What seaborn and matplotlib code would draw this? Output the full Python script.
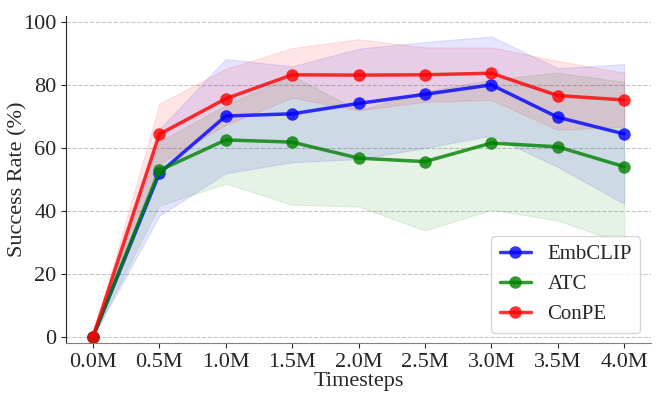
import numpy as np
import pandas as pd
import seaborn as sns
import matplotlib.pyplot as plt

# data
steps = [0.0, 0.5, 1.0, 1.5, 2.0, 2.5, 3.0, 3.5, 4.0]
step_labels = ['0.0M', '0.5M', '1.0M', '1.5M', '2.0M', '2.5M', '3.0M', '3.5M', '4.0M']

embclip_mean = [0, 52.0, 70.2, 70.9, 74.2, 77.1, 80.1, 69.8, 64.5]
embclip_upper = [0, 66.0, 88.3, 86.0, 91.6, 93.7, 95.5, 85.4, 86.7]
embclip_lower = [0, 38.5, 52.0, 55.5, 56.5, 60.0, 64.0, 54.0, 42.3]

atc_mean = [0, 52.9, 62.6, 61.9, 56.8, 55.7, 61.6, 60.4, 54.1]
atc_upper = [0, 62.0, 73.7, 83.0, 72.0, 78.0, 81.7, 84.0, 81.0]
atc_lower = [0, 41.7, 48.7, 42.0, 41.4, 33.8, 40.4, 37.0, 29.6]

conpe_mean = [0, 64.4, 75.7, 83.3, 83.2, 83.3, 83.8, 76.7, 75.3]
conpe_upper = [0, 74.1, 85.2, 91.8, 94.6, 92.0, 92.0, 87.7, 84.0]
conpe_lower = [0, 55.0, 67.4, 76.0, 72.0, 74.7, 75.3, 65.8, 66.8]

methods = ['EmbCLIP', 'ATC', 'ConPE']
colors = {'EmbCLIP': 'blue', 'ATC': 'green', 'ConPE': 'red'}

df = pd.DataFrame({
    'step': steps * 3,
    'rate': embclip_mean + atc_mean + conpe_mean,
    'method': ['EmbCLIP'] * 9 + ['ATC'] * 9 + ['ConPE'] * 9,
})
bands = {
    'EmbCLIP': (embclip_lower, embclip_upper),
    'ATC': (atc_lower, atc_upper),
    'ConPE': (conpe_lower, conpe_upper),
}

sns.set_style('ticks')
plt.rcParams['font.family'] = ['Liberation Serif', 'DejaVu Serif']

fig, ax = plt.subplots(figsize=(6.64, 3.99), dpi=100)

# shaded spread for each method
for m in methods:
    lo, hi = bands[m]
    ax.fill_between(steps, lo, hi, color=colors[m], alpha=0.1, linewidth=0.8)

sns.lineplot(data=df, x='step', y='rate', hue='method', palette=colors,
             hue_order=methods, marker='o', markersize=9, markeredgewidth=0,
             linewidth=2.5, alpha=0.8, ax=ax)

ax.set_xticks(steps)
ax.set_xticklabels(step_labels, fontsize=16)
ax.set_yticks([0, 20, 40, 60, 80, 100])
ax.tick_params(axis='y', labelsize=16)
ax.set_ylim(-2, 102)
ax.set_xlim(-0.2, 4.2)
ax.set_xlabel('Timesteps', fontsize=16, labelpad=0)
ax.set_ylabel('Success Rate (%)', fontsize=16, labelpad=-3)
ax.yaxis.grid(True, linestyle='--', color='gray', alpha=0.45, linewidth=0.8)
ax.spines['top'].set_visible(False)
ax.spines['right'].set_visible(False)
ax.spines['bottom'].set_color('gray')

leg = ax.legend(loc='lower right', fontsize=15, frameon=True,
                borderaxespad=0.5, handlelength=1.5)
leg.set_title(None)

fig.subplots_adjust(left=0.1, right=0.98, top=0.96, bottom=0.14)
fig.savefig('out.png', dpi=100)
